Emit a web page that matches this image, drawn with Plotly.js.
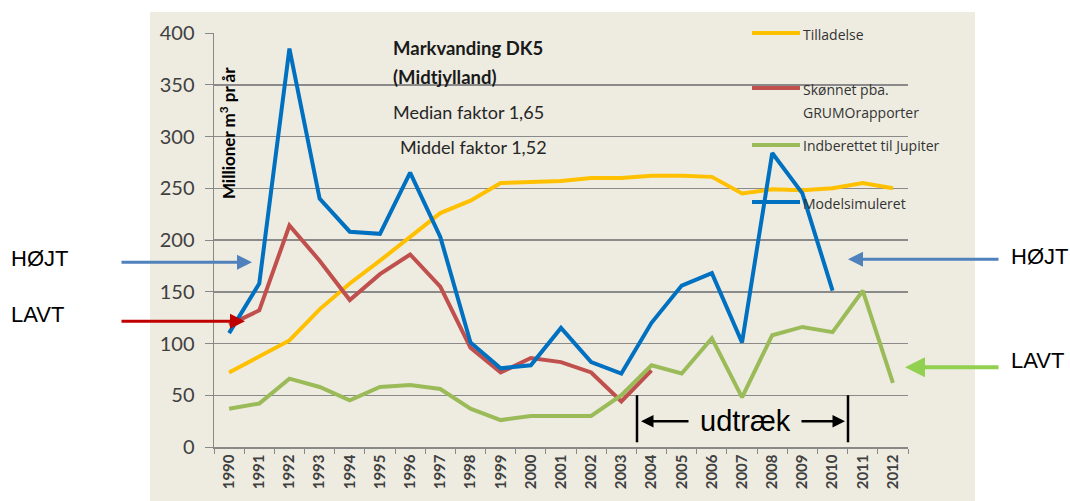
<!DOCTYPE html>
<html><head><meta charset="utf-8">
<script src="https://cdn.plot.ly/plotly-3.0.1.min.js"></script>
<style>html,body{margin:0;padding:0;background:#fff}#chart{width:1070px;height:501px}</style>
</head><body><div id="chart"></div>
<script>
const years = ['1990','1991','1992','1993','1994','1995','1996','1997','1998','1999','2000','2001','2002','2003','2004','2005','2006','2007','2008','2009','2010','2011','2012'];
const tilladelse = [72,88,103,133,158,180,203,226,238,255,256,257,260,260,262,262,261,245,249,248,250,255,250];
const skonnet = [118,132,214,180,142,167,186,155,96,72,86,82,72,44,74,null,null,null,null,null,null,null,null];
const jupiter = [37,42,66,58,45,58,60,56,37,26,30,30,30,50,79,71,105,48,108,116,111,151,62];
const model = [110,158,385,240,208,206,265,203,101,76,79,115,82,71,120,156,168,101,284,245,151,null,null];
const seriesNames = ['Tilladelse','Skønnet pba. GRUMOrapporter','Indberettet til Jupiter','Modelsimuleret'];
const yTicks = [0,50,100,150,200,250,300,350,400];

// plot area in pixels
const L=214, R=908, T=33, B=446.7;
const px = p => (p-L)/(R-L);
const py = p => (B-p)/(B-T);
const FONT = 'Lato, "Open Sans", sans-serif';
const colors = ['rgb(255,192,0)','rgb(192,80,77)','rgb(155,187,89)','rgb(0,112,192)'];

const mk = (y,i) => ({x:years,y:y,type:'scatter',mode:'lines',name:seriesNames[i],
  line:{color:colors[i],width:4},connectgaps:false,showlegend:false,hoverinfo:'skip'});
const data=[mk(tilladelse,0),mk(skonnet,1),mk(jupiter,2),mk(model,3)];

const shapes=[
  {type:'rect',xref:'paper',yref:'paper',x0:px(150),x1:px(975),y0:py(501),y1:py(12),fillcolor:'rgb(238,236,225)',line:{width:0},layer:'below'},
  // udtræk bars
  {type:'line',xref:'paper',yref:'paper',x0:px(637),x1:px(637),y0:py(442),y1:py(395),line:{color:'black',width:2.5}},
  {type:'line',xref:'paper',yref:'paper',x0:px(848),x1:px(848),y0:py(442),y1:py(395),line:{color:'black',width:2.5}}
];
// legend swatches
const legY=[33,88,145,202];
legY.forEach((y,i)=>shapes.push({type:'line',xref:'paper',yref:'paper',x0:px(752),x1:px(800),y0:py(y),y1:py(y),line:{color:colors[i],width:4}}));

const ann=[];
const txt=(x,y,t,o)=>ann.push(Object.assign({xref:'paper',yref:'paper',x:px(x),y:py(y),text:t,showarrow:false,xanchor:'left',yanchor:'middle',align:'left',font:{family:FONT,size:13,color:'#404040'}},o||{}));
const arr=(x0,x1,y,c,w)=>ann.push({xref:'paper',yref:'paper',x:px(x1),y:py(y),ax:x0-x1,ay:0,text:'',showarrow:true,arrowhead:2,arrowsize:1,arrowwidth:w||3,arrowcolor:c});

// legend texts
const legFont={family:'"Open Sans", Lato, sans-serif',size:14,color:'#333'};
txt(801,34,'Tilladelse',{font:legFont});
txt(801,89,'Skønnet pba.',{font:legFont});
txt(801,112,'GRUMOrapporter',{font:legFont});
txt(801,145,'Indberettet til Jupiter',{font:legFont});
txt(801,203,'Modelsimuleret',{font:legFont});
// title block
txt(391,48,'<b>Markvanding DK5</b>',{font:{family:FONT,size:18.5,color:'#1a1a1a'}});
txt(391,77,'<b>(Midtjylland)</b>',{font:{family:FONT,size:18.5,color:'#1a1a1a'}});
txt(391,112,'Median faktor 1,65',{font:{family:FONT,size:18,color:'#262626'}});
txt(398,147,'Middel faktor 1,52',{font:{family:FONT,size:18,color:'#262626'}});
// y title
ann.push({xref:'paper',yref:'paper',x:px(227),y:py(133),xanchor:'center',yanchor:'middle',text:'<b>Millioner m<sup>3</sup> pr år</b>',textangle:-90,showarrow:false,font:{family:FONT,size:17,color:'#000'}});
// side labels
const side={family:'"Liberation Sans", Arial, sans-serif',size:22,color:'#000'};
txt(9,258,'HØJT',{font:side});
txt(9,314,'LAVT',{font:side});
txt(1009,256,'HØJT',{font:side});
txt(1009,360,'LAVT',{font:side});
arr(120,252,262,'rgb(79,129,189)');
arr(120,245,321,'rgb(192,0,0)');
arr(1000,848,259,'rgb(79,129,189)');
arr(1000,905,367,'rgb(146,208,80)',4);
// udtræk
ann.push({xref:'paper',yref:'paper',x:px(745),y:py(421),xanchor:'center',yanchor:'middle',text:'udtræk',showarrow:false,font:{family:'"Liberation Sans", Arial, sans-serif',size:29,color:'#000'}});
arr(690,641,421,'#000',2.5);
arr(800,845,421,'#000',2.5);

const layout={
  width:1070,height:501,
  margin:{l:L,r:1070-R,t:T,b:501-B},
  paper_bgcolor:'#fff',plot_bgcolor:'rgba(0,0,0,0)',
  showlegend:false,
  font:{family:FONT,color:'#404040'},
  xaxis:{type:'category',tickmode:'array',tickvals:years,ticktext:years,tickangle:-90,
    tickson:'boundaries',ticks:'outside',ticklen:5,tickcolor:'#888',showgrid:false,
    showline:true,linecolor:'#888',linewidth:1.5,
    tickfont:{family:FONT,size:15,color:'#404040',weight:'bold'},range:[-0.5,22.5]},
  yaxis:{range:[0,400],tickmode:'array',tickvals:yTicks,ticktext:yTicks.map(String),
    ticks:'outside',ticklen:8,tickcolor:'#888',showgrid:true,gridcolor:'#8a8a8a',gridwidth:1.5,
    showline:true,linecolor:'#888',linewidth:1.5,zeroline:false,ticklabelstandoff:6,
    tickfont:{family:FONT,size:20,color:'#404040'}},
  shapes:shapes,annotations:ann
};
Plotly.newPlot('chart',data,layout,{staticPlot:true,displayModeBar:false});
</script></body></html>
